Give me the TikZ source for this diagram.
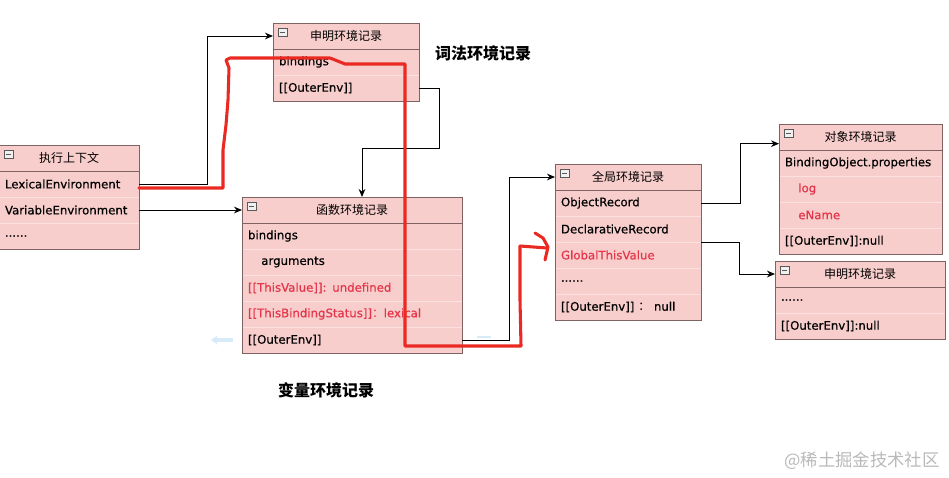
\documentclass[tikz,border=0pt]{standalone}
\usepackage{fontspec}
\setmainfont{DejaVu Sans}
\newfontfamily\cjk{Noto Sans CJK SC}
\newfontfamily\rowfont{DejaVu Sans}[FakeBold=0.6]
\usetikzlibrary{positioning,fit,arrows.meta}

\definecolor{cellfill}{HTML}{F8CECC}
\definecolor{cellline}{HTML}{FBE2E1}
\definecolor{boxline}{HTML}{7F6262}
\definecolor{hilite}{HTML}{E5354B}
\definecolor{scrawl}{HTML}{EA2A22}
\definecolor{ghost}{HTML}{D6EAF8}

\begin{document}
\begin{tikzpicture}[
    x=0.75pt, y=-0.75pt,
    hdr/.style={rectangle, draw=boxline, fill=cellfill, minimum height=19.5pt, inner sep=0pt, outer sep=0pt, font=\cjk\fontsize{9}{10}\selectfont},
    row/.style={rectangle, draw=cellline, fill=cellfill, text width=#1, minimum height=19.5pt, inner xsep=4.5pt, inner ysep=0pt, outer sep=0pt, align=left, font=\rowfont\fontsize{8.8}{10}\selectfont},
    frame/.style={rectangle, draw=boxline, inner sep=0pt, outer sep=0pt},
    tog/.style={rectangle, draw=gray!70!black, fill=gray!12, minimum width=6.5pt, minimum height=6pt, inner sep=0pt, anchor=north west,
        path picture={\draw[line width=0.6pt] ([xshift=1.5pt]path picture bounding box.west) -- ([xshift=-1.5pt]path picture bounding box.east);}},
    envlabel/.style={font=\cjk\bfseries\fontsize{12}{14}\selectfont},
    arrow/.style={-{Stealth[length=6pt,width=5pt]}, line width=0.7pt}
]
\useasboundingbox (0,0) rectangle (949,478);

% Execution context
\node[hdr, minimum width=105pt, anchor=north west] (ctxHdr) at (-1,145) {执行上下文};
\node[row=96pt, below=0pt of ctxHdr] (ctxLex) {LexicalEnvironment};
\node[row=96pt, below=0pt of ctxLex] (ctxVar) {VariableEnvironment};
\node[row=96pt, below=0pt of ctxVar] (ctxEtc) {......};
\node[frame, fit=(ctxHdr)(ctxEtc)] (ctx) {};
\draw[boxline] (ctxHdr.south west) -- (ctxHdr.south east);
\node[tog] at ([xshift=3.75pt,yshift=-3.75pt]ctxHdr.north west) {};

% Lexical environment record
\node[hdr, minimum width=109.5pt, anchor=north west] (lexHdr) at (273,23) {申明环境记录};
\node[row=100.5pt, below=0pt of lexHdr] (lexBind) {bindings};
\node[row=100.5pt, below=0pt of lexBind] (lexOut) {[[OuterEnv]]};
\node[frame, fit=(lexHdr)(lexOut)] (lexEnv) {};
\draw[boxline] (lexHdr.south west) -- (lexHdr.south east);
\node[tog] at ([xshift=3.75pt,yshift=-3.75pt]lexHdr.north west) {};

% Function environment record
\node[hdr, minimum width=165pt, anchor=north west] (funHdr) at (242,197) {函数环境记录};
\node[row=156pt, below=0pt of funHdr] (funBind) {bindings};
\node[row=156pt, below=0pt of funBind] (funArgs) {\hspace*{10pt}arguments};
\node[row=156pt, below=0pt of funArgs, text=hilite] (funThis) {[[ThisValue]]: undefined};
\node[row=156pt, below=0pt of funThis, text=hilite] (funStat) {[[ThisBindingStatus]]{\cjk ：}lexical};
\node[row=156pt, below=0pt of funStat] (funOut) {[[OuterEnv]]};
\node[frame, fit=(funHdr)(funOut)] (funEnv) {};
\draw[boxline] (funHdr.south west) -- (funHdr.south east);
\node[tog] at ([xshift=3.75pt,yshift=-3.75pt]funHdr.north west) {};

% Global environment record
\node[hdr, minimum width=109.5pt, anchor=north west] (gloHdr) at (555,164) {全局环境记录};
\node[row=100.5pt, below=0pt of gloHdr] (gloObj) {ObjectRecord};
\node[row=100.5pt, below=0pt of gloObj] (gloDecl) {DeclarativeRecord};
\node[row=100.5pt, below=0pt of gloDecl, text=hilite] (gloThis) {GlobalThisValue};
\node[row=100.5pt, below=0pt of gloThis] (gloEtc) {......};
\node[row=100.5pt, below=0pt of gloEtc] (gloOut) {[[OuterEnv]] {\cjk ：} null};
\node[frame, fit=(gloHdr)(gloOut)] (gloEnv) {};
\draw[boxline] (gloHdr.south west) -- (gloHdr.south east);
\node[tog] at ([xshift=3.75pt,yshift=-3.75pt]gloHdr.north west) {};

% Object environment record
\node[hdr, minimum width=122.25pt, anchor=north west] (objHdr) at (779,124) {对象环境记录};
\node[row=113.25pt, below=0pt of objHdr] (objProps) {BindingObject.properties};
\node[row=113.25pt, below=0pt of objProps, text=hilite] (objLog) {\hspace*{10pt}log};
\node[row=113.25pt, below=0pt of objLog, text=hilite] (objName) {\hspace*{10pt}eName};
\node[row=113.25pt, below=0pt of objName] (objOut) {[[OuterEnv]]:null};
\node[frame, fit=(objHdr)(objOut)] (objEnv) {};
\draw[boxline] (objHdr.south west) -- (objHdr.south east);
\node[tog] at ([xshift=3.75pt,yshift=-3.75pt]objHdr.north west) {};

% Declarative environment record
\node[hdr, minimum width=127.5pt, anchor=north west] (decHdr) at (775,261) {申明环境记录};
\node[row=118.5pt, below=0pt of decHdr] (decEtc) {......};
\node[row=118.5pt, below=0pt of decEtc] (decOut) {[[OuterEnv]]:null};
\node[frame, fit=(decHdr)(decOut)] (decEnv) {};
\draw[boxline] (decHdr.south west) -- (decHdr.south east);
\node[tog] at ([xshift=3.75pt,yshift=-3.75pt]decHdr.north west) {};

% Arrows
\draw[arrow] (ctxLex.east) -- ++(68,0) |- (lexHdr.west);
\draw[arrow] (ctxVar.east) -- (funHdr.west);
\draw[arrow] (lexOut.east) -- ++(20,0) -- ++(0,60) -| ([xshift=7.5pt]funHdr.north);
\draw[arrow] (funOut.east) -- ++(47,0) |- (gloHdr.west);
\draw[arrow] (gloObj.east) -- ++(39,0) |- ([yshift=-5pt]objHdr.west);
\draw[arrow] (gloDecl.south east) -- ++(38,0) |- (decHdr.west);

% Faint marks
\draw[-{Stealth[length=5pt,width=7pt]}, line width=2.5pt, ghost] (233,340) -- (211,340);
\draw[line width=2pt, ghost] (477,337) -- (491,337);

% Labels
\node[envlabel] (lexLbl) at (483,53) {词法环境记录};
\node[envlabel] (varLbl) at (326,390) {变量环境记录};
\node[font=\cjk\fontsize{13}{15}\selectfont, text=gray!55] (mark) at (862,461) {@稀土掘金技术社区};

% Hand-drawn path
\draw[scrawl, line width=2.3pt, line join=round, line cap=round]
    (ctxLex.east |- 0,188) -- (223,188) -- (223,150) -- (226,125) -- (228,100) -- (229,68)
    -- (226,60) -- (230,58) -- (330,58) -- (345,64) -- (405,64) -- (405,346)
    -- (521,346) -- (520,300) -- (520,246) -- (547,248);
\draw[scrawl, line width=2.3pt, line join=round, line cap=round]
    (535,233) -- (543,238) -- (548,247) -- (545,260);
\end{tikzpicture}
\end{document}
